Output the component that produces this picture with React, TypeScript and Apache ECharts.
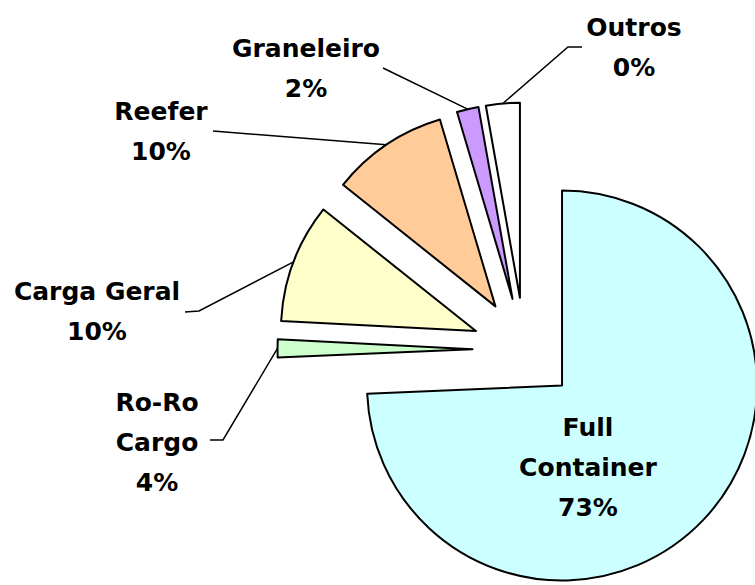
import React, { useEffect, useRef } from "react";
import * as echarts from "echarts";

// ---- data ----
const categories = ["Full Container", "Ro-Ro Cargo", "Carga Geral", "Reefer", "Graneleiro", "Outros"];
const labelNames = ["Full\nContainer", "Ro-Ro\nCargo", "Carga Geral", "Reefer", "Graneleiro", "Outros"];
// slice sizes as drawn (share of the circle, %)
const shareValues = [74.4, 1.5, 9.9, 9.7, 1.8, 2.8];
// percentages printed on the labels
const shareLabels = ["73%", "4%", "10%", "10%", "2%", "0%"];

// ---- styles / layout ----
const sliceColors = ["#CCFFFF", "#CCFFCC", "#FFFFCC", "#FFCC99", "#CC99FF", "#FFFFFF"];
const PIE_CENTER = [524.5, 349.5];
const RADIUS = 195;
const EXPLODE = 52;
// label block centres
const labelPos = [[588, 467], [157, 442], [97, 311], [161, 131], [306, 68], [634, 47]];
// leader line: [elbow, end near label]
const leaderEnds: (number[][] | null)[] = [
  null,
  [[223, 440], [210, 440]],
  [[199, 311], [185, 312]],
  [[213, 131], [213, 131]],
  [[383, 68], [383, 68]],
  [[568, 47], [582, 47]],
];

export default function App() {
  const ref = useRef<HTMLDivElement>(null);
  useEffect(() => {
    if (!ref.current) return;
    const chart = echarts.init(ref.current, null, { renderer: "svg" });
    const total = shareValues.reduce((a, b) => a + b, 0);
    let acc = 0;
    const mids = shareValues.map((v) => {
      const start = acc;
      acc += (v / total) * 360;
      return ((start + acc) / 2) * Math.PI / 180;
    });

    const series = categories.map((_, j) => {
      const mid = mids[j];
      const cx = PIE_CENTER[0] + EXPLODE * Math.sin(mid);
      const cy = PIE_CENTER[1] - EXPLODE * Math.cos(mid);
      return {
        type: "pie",
        silent: true,
        center: [cx, cy],
        radius: RADIUS,
        startAngle: 90,
        clockwise: true,
        avoidLabelOverlap: false,
        minShowLabelAngle: 0,
        emphasis: { disabled: true },
        label: {
          position: j === 0 ? "inside" : "outside",
          fontFamily: "DejaVu Sans",
          fontWeight: "bold",
          fontSize: 25,
          lineHeight: 40,
          color: "#000",
          formatter: (p: any) => `${labelNames[p.dataIndex]}\n${shareLabels[p.dataIndex]}`,
        },
        labelLine: { lineStyle: { color: "#000", width: 1.5 }, length: 10, length2: 10 },
        labelLayout: (p: any) => {
          const i = p.dataIndex;
          const out: any = { x: labelPos[i][0], y: labelPos[i][1], align: "center", verticalAlign: "middle" };
          const ends = leaderEnds[i];
          if (ends) {
            const p0 =
              p.labelLinePoints && p.labelLinePoints[0]
                ? p.labelLinePoints[0]
                : [cx + RADIUS * Math.sin(mids[i]), cy - RADIUS * Math.cos(mids[i])];
            out.labelLinePoints = [p0, ends[0], ends[1]];
          }
          return out;
        },
        data: categories.map((name, i) => ({
          name,
          value: shareValues[i],
          itemStyle:
            i === j
              ? { color: sliceColors[i], borderColor: "#000", borderWidth: 2 }
              : { color: "rgba(0,0,0,0)", borderWidth: 0 },
          label: { show: i === j },
          labelLine: { show: i === j && j !== 0 },
        })),
      };
    });

    chart.setOption({
      animation: false,
      backgroundColor: "#fff",
      series,
    } as any);
    return () => chart.dispose();
  }, []);
  return <div ref={ref} style={{ position: "absolute", left: 0, top: 0, width: 755, height: 585 }} />;
}
